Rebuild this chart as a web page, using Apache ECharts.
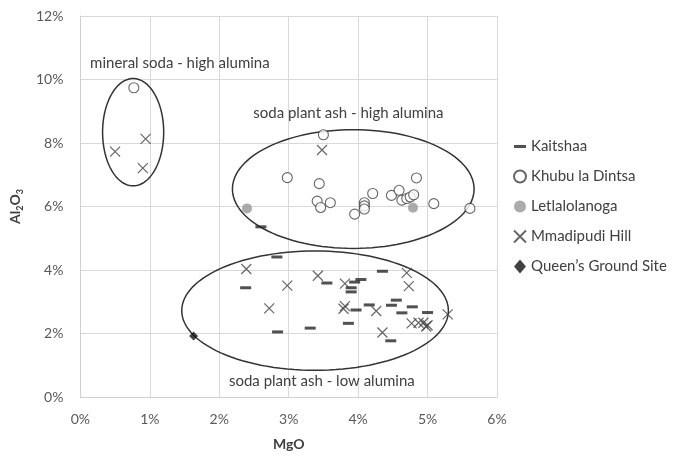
<!DOCTYPE html>
<html>
<head>
<meta charset="utf-8">
<script src="https://cdn.jsdelivr.net/npm/echarts@6/dist/echarts.min.js"></script>
<style>html,body{margin:0;padding:0;background:#fff;}#c{width:674px;height:456px;}</style>
</head>
<body>
<div id="c"></div>
<script>
// ---- data (MgO %, Al2O3 %) ----
var seriesNames = ['Kaitshaa', 'Khubu la Dintsa', 'Letlalolanoga', 'Mmadipudi Hill', 'Queen\u2019s Ground Site'];
var xTicks = [0, 1, 2, 3, 4, 5, 6];
var yTicks = [0, 2, 4, 6, 8, 10, 12];

var kaitshaa = [
  [2.60, 5.36], [2.83, 4.41], [2.38, 3.44], [3.55, 3.59], [2.84, 2.05], [3.31, 2.17],
  [3.95, 3.62], [4.04, 3.70], [3.90, 3.44], [3.90, 3.31], [4.35, 3.96], [3.97, 2.74],
  [4.16, 2.90], [3.86, 2.32], [4.55, 3.05], [4.48, 2.89], [4.78, 2.84], [4.63, 2.65],
  [5.00, 2.66], [4.47, 1.77]
];
var khubu = [
  [0.77, 9.74], [3.50, 8.26], [2.98, 6.91], [3.44, 6.72], [3.41, 6.17], [3.46, 5.97],
  [3.60, 6.12], [3.95, 5.76], [4.09, 6.12], [4.09, 6.02], [4.09, 5.92], [4.21, 6.41],
  [4.48, 6.35], [4.59, 6.51], [4.63, 6.20], [4.70, 6.25], [4.75, 6.30], [4.80, 6.37],
  [4.84, 6.90], [5.09, 6.09], [5.61, 5.94]
];
var letlalolanoga = [[2.40, 5.94], [4.79, 5.96]];
var mmadipudi = [
  [0.94, 8.13], [0.50, 7.73], [0.90, 7.21], [3.48, 7.78],
  [2.39, 4.03], [2.98, 3.51], [3.42, 3.82], [2.72, 2.79], [3.81, 3.57], [4.70, 3.91],
  [4.73, 3.49], [3.81, 2.86], [3.79, 2.78], [4.26, 2.71], [4.77, 2.32], [4.87, 2.34],
  [4.94, 2.34], [5.00, 2.26], [4.98, 2.22], [4.35, 2.03], [5.29, 2.60]
];
var queens = [[1.63, 1.92]];

// group ellipses: [centre MgO, centre Al2O3, half-width MgO, half-height Al2O3]
var ellipses = [
  [0.76, 8.34, 0.44, 1.69],
  [3.93, 6.55, 1.74, 1.87],
  [3.38, 2.72, 1.92, 1.88]
];
// annotation labels: [text, left MgO, middle Al2O3]
var notes = [
  ['mineral soda - high alumina', 0.14, 10.5],
  ['soda plant ash - high alumina', 2.49, 8.94],
  ['soda plant ash - low alumina', 2.14, 0.5]
];

var FONT = 'Lato, "Open Sans", sans-serif';
var chart = echarts.init(document.getElementById('c'), null, {renderer: 'canvas'});

var DASH = 'path://M0,0H12V3H0Z';
var XMARK = 'path://M0,0L10,10M10,0L0,10';

var option = {
  backgroundColor: '#fff',
  animation: false,
  grid: {left: 72, right: 177, top: 16, bottom: 56, containLabel: false},
  xAxis: {
    type: 'value', min: xTicks[0], max: xTicks[xTicks.length - 1], interval: 1,
    name: 'MgO', nameLocation: 'middle', nameGap: 40,
    nameTextStyle: {fontFamily: FONT, fontSize: 14, fontWeight: 'bold', color: '#404040'},
    axisLine: {show: true, lineStyle: {color: '#d0d0d0'}},
    axisTick: {show: false},
    axisLabel: {formatter: '{value}%', margin: 15, fontFamily: FONT, fontSize: 14, color: '#595959'},
    splitLine: {show: true, lineStyle: {color: '#d9d9d9'}}
  },
  yAxis: {
    type: 'value', min: yTicks[0], max: yTicks[yTicks.length - 1], interval: 2,
    name: '{a|Al}{b|2}{a|O}{b|3}', nameLocation: 'middle', nameGap: 50, nameRotate: 90,
    nameTextStyle: {
      rich: {
        a: {fontFamily: FONT, fontSize: 14, fontWeight: 'bold', color: '#404040', lineHeight: 20},
        b: {fontFamily: FONT, fontSize: 9, fontWeight: 'bold', color: '#404040', lineHeight: 9, verticalAlign: 'bottom'}
      }
    },
    axisLine: {show: true, lineStyle: {color: '#d0d0d0'}},
    axisTick: {show: false},
    axisLabel: {formatter: '{value}%', margin: 17, fontFamily: FONT, fontSize: 14, color: '#595959'},
    splitLine: {show: true, lineStyle: {color: '#d9d9d9'}}
  },
  legend: {
    orient: 'vertical', left: 508, top: 134, itemGap: 15, itemWidth: 12, itemHeight: 14,
    textStyle: {fontFamily: FONT, fontSize: 15, color: '#404040'},
    data: [
      {name: seriesNames[0], icon: DASH},
      {name: seriesNames[1]},
      {name: seriesNames[2]},
      {name: seriesNames[3]},
      {name: seriesNames[4]}
    ]
  },
  series: [
    {
      name: 'ellipses', type: 'custom', silent: true, z: 1,
      data: ellipses,
      renderItem: function (params, api) {
        var c = api.coord([api.value(0), api.value(1)]);
        var s = api.size([api.value(2), api.value(3)]);
        var pts = [];
        for (var i = 0; i < 120; i++) {
          var t = i / 120 * Math.PI * 2;
          pts.push([c[0] + s[0] * Math.cos(t), c[1] + s[1] * Math.sin(t)]);
        }
        return {type: 'polygon', shape: {points: pts}, style: {fill: 'none', stroke: '#333', lineWidth: 1.5}};
      },
      encode: {x: 0, y: 1}
    },
    {
      name: seriesNames[0], type: 'scatter', data: kaitshaa, z: 3,
      symbol: 'rect', symbolSize: [11, 3],
      itemStyle: {color: '#262626'}
    },
    {
      name: seriesNames[1], type: 'scatter', data: khubu, z: 3,
      symbol: 'circle', symbolSize: 10,
      itemStyle: {color: '#ffffff', borderColor: '#404040', borderWidth: 1.1}
    },
    {
      name: seriesNames[2], type: 'scatter', data: letlalolanoga, z: 3,
      symbol: 'circle', symbolSize: 10,
      itemStyle: {color: '#969696'}
    },
    {
      name: seriesNames[3], type: 'scatter', data: mmadipudi, z: 3,
      symbol: XMARK, symbolSize: 10,
      itemStyle: {color: 'rgba(0,0,0,0)', borderColor: '#404040', borderWidth: 1.2}
    },
    {
      name: seriesNames[4], type: 'scatter', data: queens, z: 4,
      symbol: 'diamond', symbolSize: 9,
      itemStyle: {color: '#111'}
    }
  ]
};
chart.setOption(option);

var g = notes.map(function (n) {
  var p = chart.convertToPixel({gridIndex: 0}, [n[1], n[2]]);
  return {
    type: 'text', x: p[0], y: p[1], z: 10,
    style: {text: n[0], fill: '#404040', font: '15px ' + FONT, verticalAlign: 'middle', align: 'left'}
  };
});
chart.setOption({graphic: g});
</script>
</body>
</html>
